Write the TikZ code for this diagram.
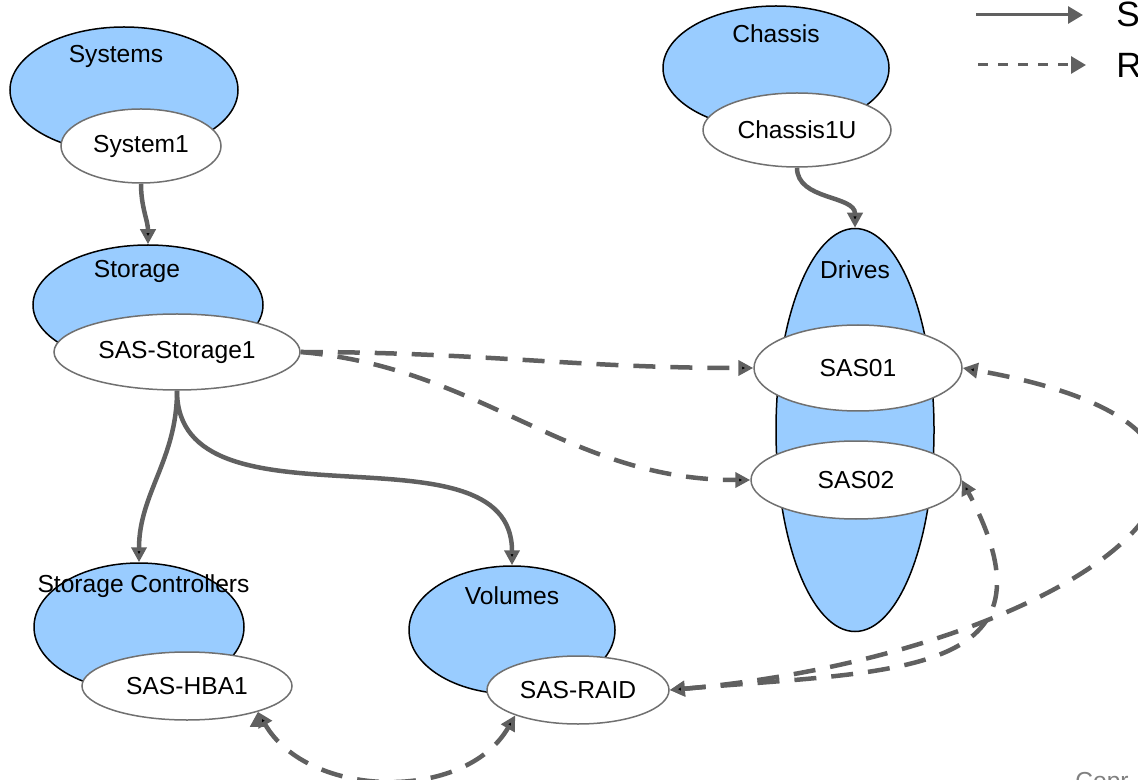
\documentclass[tikz,border=0pt]{standalone}
\usepackage{fontspec}
\setmainfont{Liberation Sans}
\usetikzlibrary{shapes.geometric,arrows.meta}
\definecolor{collblue}{HTML}{99CCFF}
\definecolor{linkgray}{HTML}{606060}
\definecolor{membergray}{HTML}{707070}

\begin{document}
\begin{tikzpicture}[->,>={Triangle[length=0.3cm,width=0.3cm]}]
            \tikzstyle{every node}=[font=\fontsize{14}{17}\selectfont]
            \tikzstyle{coll}=[ellipse, draw=black, fill=collblue,
            line width=0.03cm, inner sep=0pt]
            \tikzstyle{member}=[ellipse, draw=membergray, fill=white,
            line width=0.03cm, inner sep=0pt]
            \tikzstyle{sub}=[draw=linkgray, line width=0.09cm]
            \tikzstyle{rel}=[sub, dash pattern=on 0.44cm off 0.3cm]
            \useasboundingbox (0,0) rectangle (22.76,-15.6);
            \clip (0,0) rectangle (22.76,-15.6);
            %  sys                 chas
            %  stor                drv (d1, d2)
            %  ctrl     vol
            \node[coll, minimum width=4.56cm, minimum height=2.52cm,
                  label={[anchor=center,xshift=-0.16cm,yshift=-0.6cm]north:Systems}] (sys) at (2.48,-1.80) {};
            \node[member, minimum width=3.2cm, minimum height=1.48cm] (sys1) at (2.82,-2.92) {System1};
            \node[coll, minimum width=4.6cm, minimum height=2.4cm,
                  label={[anchor=center,xshift=-0.22cm,yshift=-0.54cm]north:Storage}] (stor) at (2.96,-6.10) {};
            \node[member, minimum width=4.92cm, minimum height=1.52cm] (stor1) at (3.54,-7.04) {SAS-Storage1};
            \node[coll, minimum width=4.2cm, minimum height=2.56cm,
                  label={[anchor=center,xshift=0.09cm,yshift=-0.48cm]north:Storage Controllers}] (ctrl) at (2.78,-12.54) {};
            \node[member, minimum width=4.2cm, minimum height=1.36cm] (hba) at (3.74,-13.72) {SAS-HBA1};
            \node[coll, minimum width=4.12cm, minimum height=2.56cm,
                  label={[anchor=center,yshift=-0.6cm]north:Volumes}] (vol) at (10.24,-12.6) {};
            \node[member, minimum width=3.64cm, minimum height=1.36cm] (raid) at (11.56,-13.8) {SAS-RAID};
            \node[coll, minimum width=4.52cm, minimum height=2.48cm,
                  label={[anchor=center,yshift=-0.56cm]north:Chassis}] (chas) at (15.52,-1.36) {};
            \node[member, minimum width=3.76cm, minimum height=1.48cm] (chas1) at (15.94,-2.6) {Chassis1U};
            \node[coll, minimum width=3.16cm, minimum height=8.06cm,
                  label={[anchor=center,yshift=-0.84cm]north:Drives}] (drv) at (17.1,-8.6) {};
            \node[member, minimum width=4.16cm, minimum height=1.72cm] (d1) at (17.16,-7.36) {SAS01};
            \node[member, minimum width=4.2cm, minimum height=1.56cm] (d2) at (17.12,-9.6) {SAS02};
            \path[sub] (sys1) edge [out=-90, in=90] (stor)
                  (chas1) edge [out=-90, in=90] (drv)
                  (stor1) edge [out=-90, in=90] (ctrl)
                  (stor1) edge [out=-90, in=90] (vol);
            \path[rel] (stor1.east) edge [out=0, in=180] (d1.west)
                  (stor1.east) edge [out=-5, in=180] (d2.west)
                  (raid.east) edge [<->, out=5, in=-10, looseness=2.4] (d1.east)
                  (raid.east) edge [<->, out=5, in=-62, looseness=1.6] (d2.east)
                  (hba.-20) edge [<->, out=-60, in=-120] (raid.-158);
            % legend
            \coordinate (ls0) at (19.52,-0.30);
            \coordinate (ls1) at (21.66,-0.30);
            \coordinate (lr0) at (19.56,-1.30);
            \coordinate (lr1) at (21.72,-1.30);
            \draw[draw=linkgray, line width=0.06cm, >={Triangle[length=0.3cm,width=0.34cm]}] (ls0) -- (ls1);
            \draw[draw=linkgray, line width=0.06cm, dash pattern=on 0.2cm off 0.2cm,
                  >={Triangle[length=0.3cm,width=0.34cm]}] (lr0) -- (lr1);
            \node[anchor=base west, inner sep=0pt, font=\fontsize{20}{24}\selectfont] (legS) at (22.32,-0.54) {S};
            \node[anchor=base west, inner sep=0pt, font=\fontsize{20}{24}\selectfont] (legR) at (22.32,-1.56) {R};
            \node[anchor=base west, inner sep=0pt, text=gray] (copr) at (21.5,-15.78) {Copr};
\end{tikzpicture}
\end{document}
